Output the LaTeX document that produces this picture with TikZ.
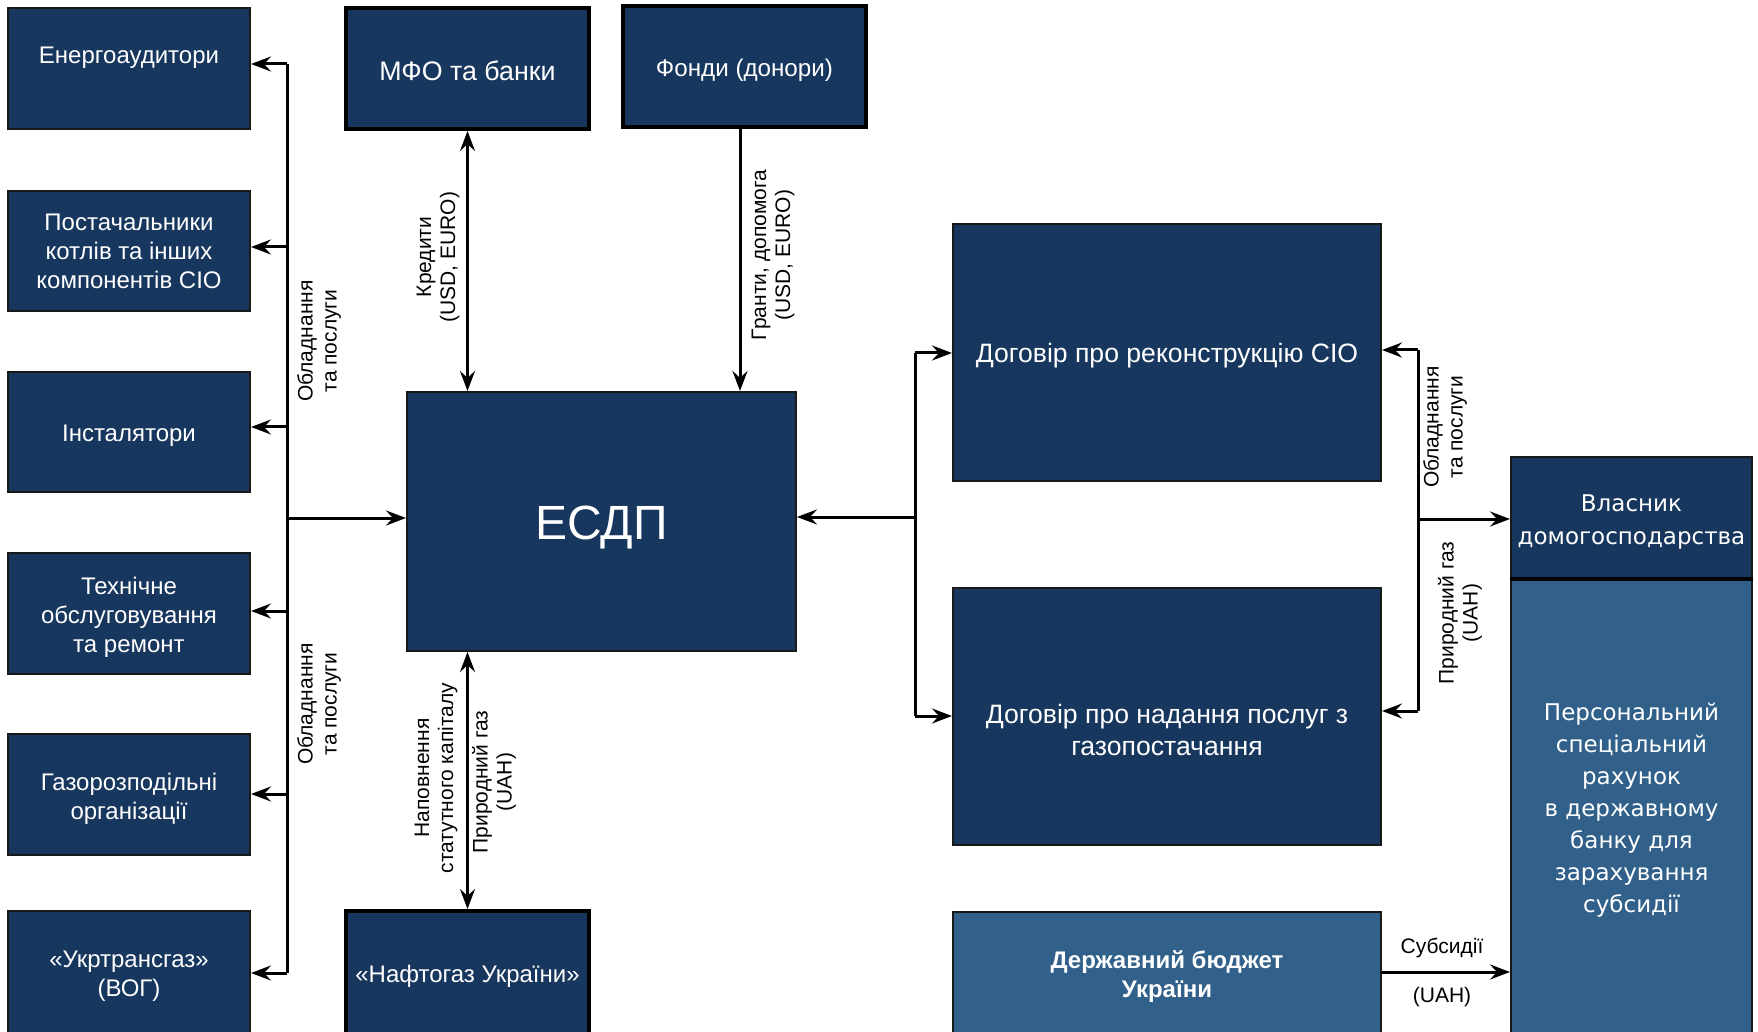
\documentclass[tikz,border=0pt]{standalone}
\usepackage{fontspec}
\setmainfont{Liberation Sans}
\newfontfamily\dejavu{DejaVu Sans}
\usetikzlibrary{arrows.meta,calc}
\definecolor{navy}{RGB}{23,55,94}
\definecolor{lblue}{RGB}{49,96,138}
\definecolor{bord}{RGB}{25,25,25}
\begin{document}
\begin{tikzpicture}[x=0.5pt,y=-0.5pt,
  box/.style={draw=bord, line width=1pt, fill=navy, inner sep=0pt},
  thickbox/.style={box, draw=black, line width=2pt},
  txt/.style={text=white, align=center, inner sep=0pt, font=\fontsize{12}{14.5}\selectfont, yshift=-2pt},
  lbl/.style={align=center, font=\fontsize{10.5}{12}\selectfont, inner sep=0pt},
  tip/.tip={Stealth[length=10pt,width=7.5pt,inset=3.5pt]},
  arr/.style={line width=1.5pt, -tip},
  arrtwo/.style={line width=1.5pt, tip-tip},
  ln/.style={line width=1.5pt},
]
\useasboundingbox (0,0) rectangle (1758,1032);
\fill[white] (0,0) rectangle (1758,1032);
\clip (0,0) rectangle (1758,1032);

% left column
\node[box, minimum width=121pt, minimum height=60.5pt,
  label={[txt, yshift=1.5pt]center:{Енергоаудитори\\ \mbox{}}}] (en) at (129,68.5) {};
\node[box, minimum width=121pt, minimum height=60pt,
  label={[txt, yshift=2pt]center:{Постачальники\\котлів та інших\\компонентів СІО}}] (post) at (129,251) {};
\node[box, minimum width=121pt, minimum height=60pt,
  label={[txt]center:{Інсталятори}}] (inst) at (129,432) {};
\node[box, minimum width=121pt, minimum height=60.5pt,
  label={[txt]center:{Технічне\\обслуговування\\та ремонт}}] (tech) at (129,613.5) {};
\node[box, minimum width=121pt, minimum height=60.5pt,
  label={[txt]center:{Газорозподільні\\організації}}] (gaz) at (129,794.5) {};
\node[box, minimum width=121pt, minimum height=61.5pt,
  label={[txt, yshift=0.3pt]center:{«Укртрансгаз»\\(ВОГ)}}] (ukr) at (129,972.5) {};

% top
\node[thickbox, minimum width=121.5pt, minimum height=60.5pt,
  label={[txt, yshift=0.8pt, font=\fontsize{13.4}{15}\selectfont]center:{МФО та банки}}] (mfo) at (467.5,68.5) {};
\node[thickbox, minimum width=121.5pt, minimum height=60.5pt,
  label={[txt, font=\fontsize{12.1}{14}\selectfont]center:{Фонди (донори)}}] (fondy) at (744.5,66.5) {};

% centre
\node[box, minimum width=194.5pt, minimum height=129.5pt,
  label={[txt, yshift=-0.8pt, font=\fontsize{24}{28}\selectfont]center:{ЕСДП}}] (esdp) at (601.5,521.5) {};
\node[thickbox, minimum width=121.5pt, minimum height=61.5pt,
  label={[txt, yshift=0.3pt]center:{«Нафтогаз України»}}] (naft) at (467.5,972.5) {};

% contracts
\node[box, minimum width=214pt, minimum height=128.5pt,
  label={[txt, yshift=0.3pt, font=\fontsize{13.3}{15.5}\selectfont]center:{Договір про реконструкцію СІО}}] (dog1) at (1167,352.5) {};
\node[box, minimum width=214pt, minimum height=128.5pt,
  label={[txt, yshift=-1.4pt, font=\fontsize{13.3}{16}\selectfont]center:{\mbox{}\\Договір про надання послуг з\\газопостачання}}] (dog2) at (1167,716.5) {};
\node[box, fill=lblue, minimum width=214pt, minimum height=61pt,
  label={[txt, font=\bfseries\fontsize{12}{14.5}\selectfont]center:{Державний бюджет\\України}}] (budget) at (1167,973) {};

% household
\node[box, fill=lblue, minimum width=120.5pt, minimum height=228pt,
  label={[txt, yshift=-0.2pt, font=\dejavu\fontsize{11.5}{16}\selectfont]center:{Персональний\\спеціальний\\рахунок\\в державному\\банку для\\зарахування\\субсидії}}] (pers) at (1631.5,806) {};
\node[box, minimum width=120.5pt, minimum height=60.5pt,
  label={[txt, yshift=-0.2pt, font=\dejavu\fontsize{11.5}{16.3}\selectfont]center:{Власник\\домогосподарства}}] (vl) at (1631.5,517.5) {};
\draw[line width=2pt, black] (vl.south west) -- (vl.south east);

% left bus
\coordinate (b1) at (287,64);
\coordinate (b2) at (287,247);
\coordinate (b3) at (287,427);
\coordinate (b4) at (287,611);
\coordinate (b5) at (287,794);
\coordinate (b6) at (287,973);
\coordinate (be) at (287,518);
\draw[ln] (b1) -- (b6);
\draw[arr] (b1) -- (b1 -| en.east);
\draw[arr] (b2) -- (b2 -| post.east);
\draw[arr] (b3) -- (b3 -| inst.east);
\draw[arr] (b4) -- (b4 -| tech.east);
\draw[arr] (b5) -- (b5 -| gaz.east);
\draw[arr] (b6) -- (b6 -| ukr.east);
\draw[arr] (be) -- (be -| esdp.west);

% vertical flows
\draw[arrtwo] (mfo.south) -- (mfo.south |- esdp.north);
\coordinate (fx) at (740,0);
\draw[arr] (fondy.south -| fx) -- (esdp.north -| fx);
\draw[arrtwo] (esdp.south -| naft.north) -- (naft.north);

% right junction 1
\coordinate (j1t) at (915,353);
\coordinate (j1m) at (915,517);
\coordinate (j1b) at (915,716);
\draw[ln] (j1t) -- (j1b);
\draw[arr] (j1m) -- (j1m -| esdp.east);
\draw[arr] (j1t) -- (j1t -| dog1.west);
\draw[arr] (j1b) -- (j1b -| dog2.west);

% right junction 2
\coordinate (j2t) at (1418,350);
\coordinate (j2m) at (1418,519);
\coordinate (j2b) at (1418,711);
\draw[ln] (j2t) -- (j2b);
\draw[arr] (j2t) -- (j2t -| dog1.east);
\draw[arr] (j2b) -- (j2b -| dog2.east);
\draw[arr] (j2m) -- (j2m -| vl.west);

% subsidy
\coordinate (sb) at (1381,972);
\draw[arr] (sb -| budget.east) -- (sb -| pers.west);

% labels
\node[lbl, rotate=90] (l1) at (319,341) {Обладнання\\та послуги};
\node[lbl, rotate=90] (l2) at (319,704) {Обладнання\\та послуги};
\node[lbl, rotate=90] (l3) at (438,257) {Кредити\\(USD, EURO)};
\node[lbl, rotate=90] (l4) at (773,255) {Гранти, допомога\\(USD, EURO)};
\node[lbl, rotate=90] (l5) at (436,778) {Наповнення\\статутного капіталу};
\node[lbl, rotate=90] (l6) at (494,782) {Природний газ\\(UAH)};
\node[lbl, rotate=90] (l7) at (1445,427) {Обладнання\\та послуги};
\node[lbl, rotate=90] (l8) at (1460,613) {Природний газ\\(UAH)};
\node[lbl] (l9) at (1442,948) {Субсидії};
\node[lbl] (l10) at (1442,997) {(UAH)};
\end{tikzpicture}
\end{document}
